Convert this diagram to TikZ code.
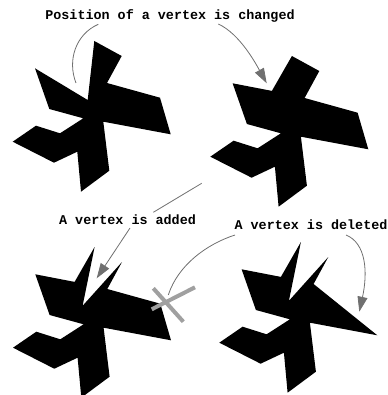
\documentclass[tikz,border=0pt]{standalone}
\usepackage{fontspec}
\setmonofont{Liberation Mono}
\usetikzlibrary{arrows.meta}
\definecolor{linegray}{RGB}{112,112,112}
\definecolor{crossgray}{RGB}{160,160,160}
\begin{document}
\begin{tikzpicture}[x=1pt,y=-1pt,
  blob/.style={fill=black},
  label/.style={font=\ttfamily\bfseries\fontsize{13.4}{16}\selectfont,inner sep=0pt,anchor=base},
  conn/.style={draw=linegray,line width=0.8pt},
  arr/.style={conn,-{Triangle[length=15pt,width=10pt]}},
  crossline/.style={draw=crossgray,line width=4pt}]
\useasboundingbox (0,0) rectangle (387,395);

% shape 1: original
\fill[blob] (94.3,41) -- (121.7,56) -- (107,83) -- (160,97.7) -- (170.7,134.3) -- (103.3,121.7)
  -- (109.3,170.7) -- (81,191.7) -- (77.3,151.7) -- (54,162.7) -- (12.7,141.7) -- (36,125.7)
  -- (60,133.3) -- (83.3,118.3) -- (49.3,109) -- (35,68.3) -- (87.7,100) -- cycle;

% shape 2: vertex moved
\begin{scope}[shift={(197.6,15)}]
\fill[blob] (94.3,41) -- (121.7,56) -- (107,83) -- (160,97.7) -- (170.7,134.3) -- (103.3,121.7)
  -- (109.3,170.7) -- (81,191.7) -- (77.3,151.7) -- (54,162.7) -- (12.7,141.7) -- (36,125.7)
  -- (60,133.3) -- (83.3,118.3) -- (49.3,109) -- (35,68.3) -- (74.3,75.9) -- cycle;
\end{scope}

% shape 3: vertex added
\begin{scope}[shift={(0.3,206)}]
\fill[blob] (94.3,41) -- (82.3,99.8) -- (121.7,56) -- (107,83) -- (160,97.7) -- (170.7,134.3) -- (103.3,121.7)
  -- (109.3,170.7) -- (81,191.7) -- (77.3,151.7) -- (54,162.7) -- (12.7,141.7) -- (36,125.7)
  -- (60,133.3) -- (83.3,118.3) -- (49.3,109) -- (35,68.3) -- (74.3,75.9) -- cycle;
\end{scope}

% shape 4: vertex deleted
\begin{scope}[shift={(206.6,201)}]
\fill[blob] (94.3,41) -- (82.3,99.8) -- (121.7,56) -- (107,83) -- (170.7,134.3) -- (103.3,121.7)
  -- (109.3,170.7) -- (81,191.7) -- (77.3,151.7) -- (54,162.7) -- (12.7,141.7) -- (36,125.7)
  -- (60,133.3) -- (83.3,118.3) -- (49.3,109) -- (35,68.3) -- (74.3,75.9) -- cycle;
\end{scope}

% labels
\node[label] (tchanged) at (170,20) {Position of a vertex is changed};
\node[label] (tadded) at (127.5,224) {A vertex is added};
\node[label] (tdeleted) at (311,229.5) {A vertex is deleted};

% connector end points
\coordinate (l1s) at (98.3,24.3);
\coordinate (l1e) at (76,83);
\coordinate (l2s) at (218.3,24);
\coordinate (l2e) at (266.7,83.3);
\coordinate (l3s) at (201.7,183.3);
\coordinate (l3e) at (153.3,212.3);
\coordinate (l4s) at (130,228);
\coordinate (l4e) at (96.7,278.3);
\coordinate (l5s) at (235,235);
\coordinate (l5e) at (168.3,295);
\coordinate (l6s) at (346,235);
\coordinate (l6e) at (359.3,311.7);
\coordinate (x1a) at (151.7,309.3);
\coordinate (x1b) at (195,287.3);
\coordinate (x2a) at (153.3,288.3);
\coordinate (x2b) at (183.3,321.7);

% connectors
\draw[conn] (l1s) .. controls (76,34) and (67,60) .. (l1e);
\draw[arr] (l2s) .. controls (240,34) and (256,64) .. (l2e);
\draw[conn] (l3s) -- (l3e);
\draw[arr] (l4s) -- (l4e);
\draw[conn] (l5s) .. controls (207,244) and (178,265) .. (l5e);
\draw[arr] (l6s) .. controls (366,243) and (368,272) .. (l6e);

% deletion cross
\draw[crossline] (x1a) -- (x1b);
\draw[crossline] (x2a) -- (x2b);
\end{tikzpicture}
\end{document}
